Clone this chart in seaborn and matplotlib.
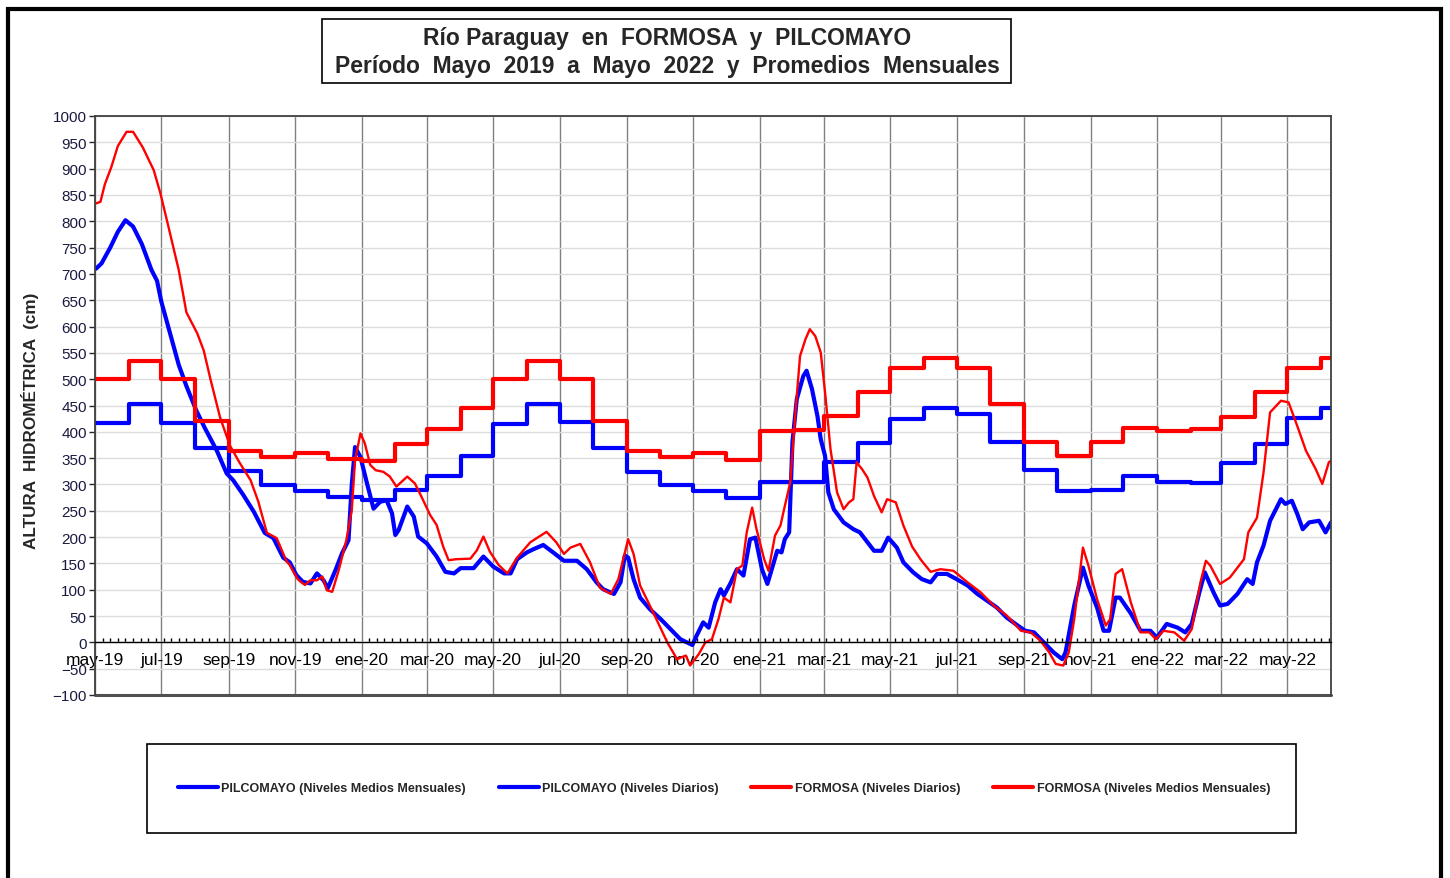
import matplotlib
matplotlib.use("Agg")
import matplotlib.dates as mdates
import matplotlib.pyplot as plt
import pandas as pd
import seaborn as sns
from matplotlib.lines import Line2D
from matplotlib.patches import Rectangle
from matplotlib.ticker import FixedLocator, FuncFormatter

# ---------------------------------------------------------------------------
# Datos
# ---------------------------------------------------------------------------
INICIO = "2019-05-01"
FIN = "2022-06-10"

# promedios mensuales, mayo-2019 a junio-2022
MESES = pd.date_range("2019-05-01", "2022-06-01", freq="MS")
PIL_MENSUAL = [417, 453, 417, 370, 325, 299, 288, 276, 271, 289, 316, 355,
               414, 452, 419, 370, 324, 299, 287, 275, 304, 305, 342, 378,
               424, 446, 433, 380, 327, 288, 290, 316, 304, 302, 340, 377,
               426, 445]
FOR_MENSUAL = [500, 534, 500, 421, 364, 353, 359, 348, 345, 376, 405, 445,
               500, 534, 500, 421, 364, 353, 359, 347, 401, 403, 430, 475,
               522, 541, 522, 452, 380, 354, 380, 408, 402, 405, 428, 475,
               522, 541]

# niveles diarios: dias desde 01-05-2019 y altura (cm)
PIL_DIAS = [1, 6, 14, 21, 28, 35, 43, 52, 57, 61, 69, 77, 84, 93, 101, 112,
            121, 127, 136, 146, 156, 164, 173, 179, 185, 191, 198, 204, 210,
            214, 221, 227, 233, 236, 239, 244, 250, 256, 262, 268, 273, 276,
            279, 287, 293, 297, 305, 314, 322, 330, 336, 348, 357, 366, 376,
            382, 388, 397, 403, 412, 421, 431, 443, 452, 461, 467, 477, 483,
            487, 490, 495, 501, 510, 520, 529, 538, 544, 549, 553, 559, 564,
            570, 575, 578, 584, 590, 596, 602, 607, 613, 618, 622, 627, 631,
            634, 638, 641, 645, 651, 654, 659, 664, 667, 671, 674, 679, 688,
            697, 703, 710, 716, 723, 729, 737, 743, 752, 760, 768, 774, 783,
            792, 802, 811, 820, 829, 838, 848, 855, 863, 872, 881, 889, 892,
            900, 908, 913, 921, 927, 932, 938, 942, 952, 961, 970, 976, 985,
            995, 1002, 1008, 1015, 1020, 1028, 1034, 1041, 1050, 1059, 1064,
            1068, 1074, 1080, 1090, 1094, 1100, 1105, 1110, 1116, 1125, 1131,
            1136]
PIL_DIARIO = [710, 720, 750, 780, 802, 790, 757, 707, 687, 647, 587, 527,
              487, 441, 407, 364, 321, 308, 281, 248, 208, 198, 161, 152, 128,
              115, 112, 131, 118, 103, 137, 169, 194, 300, 371, 352, 302, 254,
              267, 270, 245, 204, 213, 258, 239, 201, 188, 163, 134, 131, 141,
              141, 163, 144, 131, 131, 158, 171, 177, 185, 171, 155, 155, 139,
              114, 101, 92, 114, 165, 161, 120, 85, 63, 44, 25, 6, 0, -5, 13,
              38, 28, 76, 101, 89, 112, 139, 127, 196, 199, 139, 111, 139, 174,
              171, 196, 209, 380, 462, 506, 516, 481, 430, 386, 354, 285, 253,
              228, 215, 209, 190, 174, 174, 199, 180, 152, 133, 120, 114, 130,
              130, 120, 108, 92, 79, 66, 47, 32, 22, 19, 0, -19, -32, -19, 70,
              142, 108, 66, 22, 22, 85, 85, 55, 22, 22, 9, 35, 28, 19, 35, 95,
              133, 95, 70, 73, 92, 120, 111, 152, 184, 231, 272, 263, 269, 244,
              215, 228, 231, 209, 228]

FOR_DIAS = [1, 5, 9, 15, 21, 29, 35, 44, 54, 60, 67, 77, 84, 94, 100, 106,
            115, 124, 133, 143, 150, 158, 167, 176, 179, 186, 189, 193, 198,
            204, 209, 213, 218, 224, 231, 236, 239, 244, 248, 253, 258, 265,
            271, 277, 287, 294, 300, 308, 314, 320, 325, 332, 345, 351, 357,
            363, 371, 379, 388, 400, 415, 424, 431, 437, 446, 455, 464, 474,
            481, 490, 495, 501, 513, 526, 535, 543, 547, 555, 561, 567, 573,
            578, 584, 590, 595, 599, 604, 608, 615, 619, 625, 630, 634, 639,
            644, 648, 653, 657, 662, 667, 671, 676, 682, 688, 693, 697, 700,
            705, 710, 716, 723, 728, 736, 743, 751, 759, 768, 777, 789, 802,
            814, 826, 838, 851, 860, 869, 877, 883, 890, 895, 900, 908, 913,
            921, 929, 933, 938, 944, 952, 961, 969, 975, 982, 992, 1001, 1008,
            1016, 1021, 1025, 1034, 1043, 1050, 1056, 1060, 1068, 1074, 1080,
            1090, 1097, 1105, 1113, 1122, 1128, 1134, 1136]
FOR_DIARIO = [834, 837, 870, 903, 943, 970, 970, 940, 897, 854, 794, 707,
              627, 587, 554, 501, 427, 374, 341, 308, 268, 208, 198, 154, 147,
              121, 115, 109, 118, 118, 125, 99, 96, 137, 194, 251, 346, 397,
              378, 337, 327, 324, 315, 296, 315, 302, 277, 242, 223, 182, 156,
              158, 159, 175, 201, 172, 147, 131, 161, 190, 210, 190, 168, 180,
              187, 152, 104, 92, 120, 196, 168, 108, 57, 0, -32, -25, -44, -22,
              0, 6, 44, 85, 76, 139, 146, 209, 256, 215, 158, 136, 203, 222,
              259, 304, 443, 544, 576, 595, 582, 551, 475, 367, 285, 253, 266,
              272, 342, 329, 313, 278, 247, 272, 266, 222, 182, 157, 134, 139,
              136, 114, 95, 70, 51, 22, 19, 3, -19, -41, -44, -19, 44, 180, 146,
              82, 32, 44, 130, 139, 76, 19, 19, 6, 22, 19, 3, 25, 114, 155, 146,
              111, 123, 142, 158, 209, 237, 323, 437, 459, 456, 411, 364, 329,
              301, 342, 345]

ETIQUETAS = [
    "PILCOMAYO (Niveles Medios Mensuales)",
    "PILCOMAYO (Niveles Diarios)",
    "FORMOSA (Niveles Diarios)",
    "FORMOSA (Niveles Medios Mensuales)",
]
MES_ES = {1: "ene", 3: "mar", 5: "may", 7: "jul", 9: "sep", 11: "nov"}

AZUL = "#0000FF"
ROJO = "#FF0000"

# ---------------------------------------------------------------------------
# Estilo
# ---------------------------------------------------------------------------
sns.set_style("white")
plt.rcParams["font.family"] = ["Liberation Sans", "DejaVu Sans"]

W, H = 1450, 879
fig = plt.figure(figsize=(W / 100, H / 100), dpi=100)


def fx(px):
    return px / W


def fy(py):
    return 1 - py / H


ax = fig.add_axes([fx(95), fy(696), fx(1331 - 95), (696 - 117) / H])


def escalon(meses, valores):
    x = list(meses) + [pd.Timestamp(FIN)]
    y = list(valores) + [valores[-1]]
    return pd.DataFrame({"fecha": x, "nivel": y})


def diario(dias, valores):
    fechas = pd.Timestamp(INICIO) + pd.to_timedelta(dias, unit="D")
    return pd.DataFrame({"fecha": fechas, "nivel": valores})


series = [
    (escalon(MESES, PIL_MENSUAL), AZUL, 3.0, "steps-post"),
    (diario(PIL_DIAS, PIL_DIARIO), AZUL, 3.0, "default"),
    (diario(FOR_DIAS, FOR_DIARIO), ROJO, 1.7, "default"),
    (escalon(MESES, FOR_MENSUAL), ROJO, 3.0, "steps-post"),
]
for df, color, lw, ds in series:
    sns.lineplot(data=df, x="fecha", y="nivel", ax=ax, color=color,
                 linewidth=lw, drawstyle=ds, estimator=None, sort=False,
                 legend=False)

# ---------------------------------------------------------------------------
# Ejes
# ---------------------------------------------------------------------------
ax.set_xlim(pd.Timestamp(INICIO), pd.Timestamp(FIN))
ax.set_ylim(-100, 1000)
ax.set_yticks(range(-100, 1001, 50))
ax.set_xlabel("")
ax.set_ylabel("")

ax.xaxis.set_major_locator(mdates.MonthLocator(bymonth=list(MES_ES)))
ax.xaxis.set_major_formatter(FuncFormatter(
    lambda v, pos: f"{MES_ES[mdates.num2date(v).month]}-{mdates.num2date(v):%y}"))
semanas = pd.date_range(INICIO, FIN, freq="7D")
ax.xaxis.set_minor_locator(FixedLocator(mdates.date2num(semanas)))

ax.grid(axis="x", which="major", color="#808080", linewidth=1)
ax.grid(axis="y", which="major", color="#dcdcdc", linewidth=1)
ax.set_axisbelow(True)

# el eje de categorias cruza en 0, como en la planilla original
ax.spines["bottom"].set_position(("data", 0))
ax.spines["bottom"].set_color("black")
ax.spines["bottom"].set_linewidth(1)
for lado in ["left", "top", "right"]:
    ax.spines[lado].set_color("#404040")
    ax.spines[lado].set_linewidth(1.3)
ax.axhline(-100, color="#505050", linewidth=2.2, clip_on=False)

ax.tick_params(axis="x", which="major", direction="out", length=4, width=1,
               pad=3, labelsize=12.5, colors="black")
ax.tick_params(axis="x", which="minor", direction="in", length=3, width=1,
               bottom=True, colors="black")
ax.tick_params(axis="y", direction="out", length=4, width=1, pad=2,
               labelsize=11, labelcolor="#1a1a40", left=True)

# ---------------------------------------------------------------------------
# Titulo, rotulo y leyenda
# ---------------------------------------------------------------------------
fig.patches.append(Rectangle((fx(322), fy(84)), fx(1011 - 322), (84 - 20) / H,
                             transform=fig.transFigure, fill=False,
                             edgecolor="black", linewidth=1.2))
fig.text(fx(667), fy(39), "Río Paraguay  en  FORMOSA  y  PILCOMAYO",
         ha="center", va="center", fontsize=16.5, fontweight="bold")
fig.text(fx(667), fy(67),
         "Período  Mayo  2019  a  Mayo  2022  y  Promedios  Mensuales",
         ha="center", va="center", fontsize=16.5, fontweight="bold")

fig.text(fx(30), fy(421), "ALTURA  HIDROMÉTRICA  (cm)", rotation=90,
         ha="center", va="center", fontsize=12.3, fontweight="bold")

fig.patches.append(Rectangle((fx(147), fy(834)), fx(1296 - 147),
                             (834 - 745) / H, transform=fig.transFigure,
                             fill=False, edgecolor="black", linewidth=1.2))
manijas = [Line2D([], [], color=c, linewidth=3)
           for c in [AZUL, AZUL, ROJO, ROJO]]
fig.legend(manijas, ETIQUETAS, loc="center", bbox_to_anchor=(fx(724), fy(789)),
           ncol=4, frameon=False, handlelength=3.2, handletextpad=0.3,
           columnspacing=2.6, prop={"size": 9, "weight": "bold"})

# marco exterior
fig.patches.append(Rectangle((fx(8), fy(950)), fx(1441 - 8), (950 - 10) / H,
                             transform=fig.transFigure, fill=False,
                             edgecolor="black", linewidth=3))

fig.savefig("out.png", dpi=100)
